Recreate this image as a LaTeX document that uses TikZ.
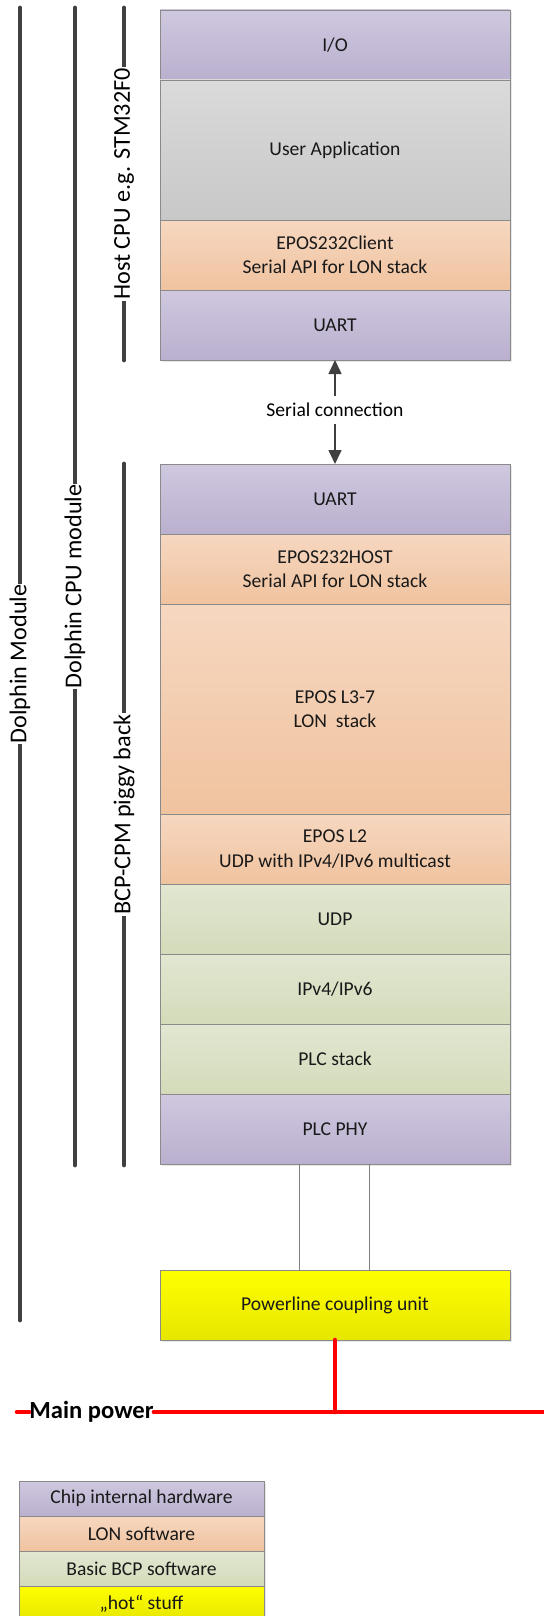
\documentclass[tikz,border=0pt]{standalone}
\usepackage{fontspec}
\setmainfont{Carlito}
\usepackage{xcolor}
\usetikzlibrary{positioning,arrows.meta,shadows}

\definecolor{hwtop}{HTML}{CFC8DF}
\definecolor{hwbot}{HTML}{BAB0CF}
\definecolor{apptop}{HTML}{DADADA}
\definecolor{appbot}{HTML}{C8C8C8}
\definecolor{lontop}{HTML}{F6D7C0}
\definecolor{lonbot}{HTML}{F0C39F}
\definecolor{bcptop}{HTML}{E1E7D1}
\definecolor{bcpbot}{HTML}{D3DBBA}
\definecolor{hottop}{HTML}{FFFF00}
\definecolor{hotbot}{HTML}{E6E600}
\definecolor{framegray}{HTML}{8A8A8A}
\definecolor{bargray}{HTML}{404040}

\begin{document}
\begin{tikzpicture}[x=0.5pt,y=-0.5pt,
  layer/.style={draw=framegray,line width=0.4pt,minimum width=175pt,minimum height=35pt,
    inner sep=0pt,outer sep=0pt,align=center,text=black!90,
    font=\fontsize{9.8}{12.2}\selectfont,
    drop shadow={shadow xshift=1.2pt,shadow yshift=-1.2pt,opacity=0.18,fill=black!50}},
  hw/.style={layer,top color=hwtop,bottom color=hwbot},
  app/.style={layer,top color=apptop,bottom color=appbot},
  lon/.style={layer,top color=lontop,bottom color=lonbot},
  bcp/.style={layer,top color=bcptop,bottom color=bcpbot},
  hot/.style={layer,top color=hottop,bottom color=hotbot},
  key/.style={minimum width=122.5pt,minimum height=17.5pt},
  bar/.style={draw=bargray,line width=2.4pt,line cap=round},
  barlabel/.style={fill=white,rotate=90,inner xsep=0.5pt,inner ysep=1pt,
    font=\fontsize{12.1}{15}\selectfont},
  serial/.style={draw=bargray,line width=0.8pt,-{Triangle[length=7pt,width=6.5pt]}},
  wire/.style={draw=gray,line width=0.4pt},
  power/.style={draw=red,line width=2.3pt,line cap=round}]

\useasboundingbox (0,0) rectangle (543,1616);

% host cpu
\node[hw] (io) at (335,45) {I/O};
\node[app,minimum height=70pt,below=0pt of io] (userapp) {User Application};
\node[lon,below=0pt of userapp] (client) {EPOS232Client\\Serial API for LON stack};
\node[hw,below=0pt of client] (uarthost) {UART};

\node[font=\fontsize{9.8}{12}\selectfont,inner ysep=3.5pt] (serial) at (335,410) {Serial connection};
\draw[serial] (serial) -- (uarthost);

% bcp-cpm piggy back
\node[hw] (uartbcp) at (335,499) {UART};
\draw[serial] (serial) -- (uartbcp);
\node[lon,below=0pt of uartbcp] (eposhost) {EPOS232HOST\\Serial API for LON stack};
\node[lon,minimum height=105pt,below=0pt of eposhost] (eposlon) {EPOS L3-7\\LON\ \ stack};
\node[lon,below=0pt of eposlon] (eposltwo) {EPOS L2\\UDP with IPv4/IPv6 multicast};
\node[bcp,below=0pt of eposltwo] (udp) {UDP};
\node[bcp,below=0pt of udp] (ip) {IPv4/IPv6};
\node[bcp,below=0pt of ip] (plcstack) {PLC stack};
\node[hw,below=0pt of plcstack] (plcphy) {PLC PHY};

\node[hot] (coupler) at (335,1305) {Powerline coupling unit};
\draw[wire] ([xshift=-18pt]plcphy.south) -- ([xshift=-18pt]coupler.north);
\draw[wire] ([xshift=17pt]plcphy.south) -- ([xshift=17pt]coupler.north);

% module brackets
\draw[bar] (20,8) -- (20,1320) node[barlabel,midway] {Dolphin Module};
\draw[bar] (75,8) -- (75,1165) node[barlabel,midway] {Dolphin CPU module};
\draw[bar] (124,8) -- (124,360) node[barlabel,midway] {Host CPU e.g. STM32F0};
\draw[bar] (124,464) -- (124,1165) node[barlabel,midway] {BCP-CPM piggy back};

% mains
\coordinate (mainsleft) at (17,1412);
\coordinate (mainsright) at (548,1412);
\node[font=\bfseries\fontsize{12.3}{15}\selectfont,inner sep=0pt] (mains) at (91.5,1412) {Main power};
\draw[power] (mainsleft) -- (mains.west);
\draw[power] (mains.east) -- (mainsright);
\draw[power] (coupler.south) -- (coupler.south |- mainsright);

% legend
\node[hw,key] (keyhw) at (141.5,1498.5) {Chip internal hardware};
\node[lon,key,below=0pt of keyhw] (keylon) {LON software};
\node[bcp,key,below=0pt of keylon] (keybcp) {Basic BCP software};
\node[hot,key,below=0pt of keybcp] (keyhot) {„hot“ stuff};

\end{tikzpicture}
\end{document}
